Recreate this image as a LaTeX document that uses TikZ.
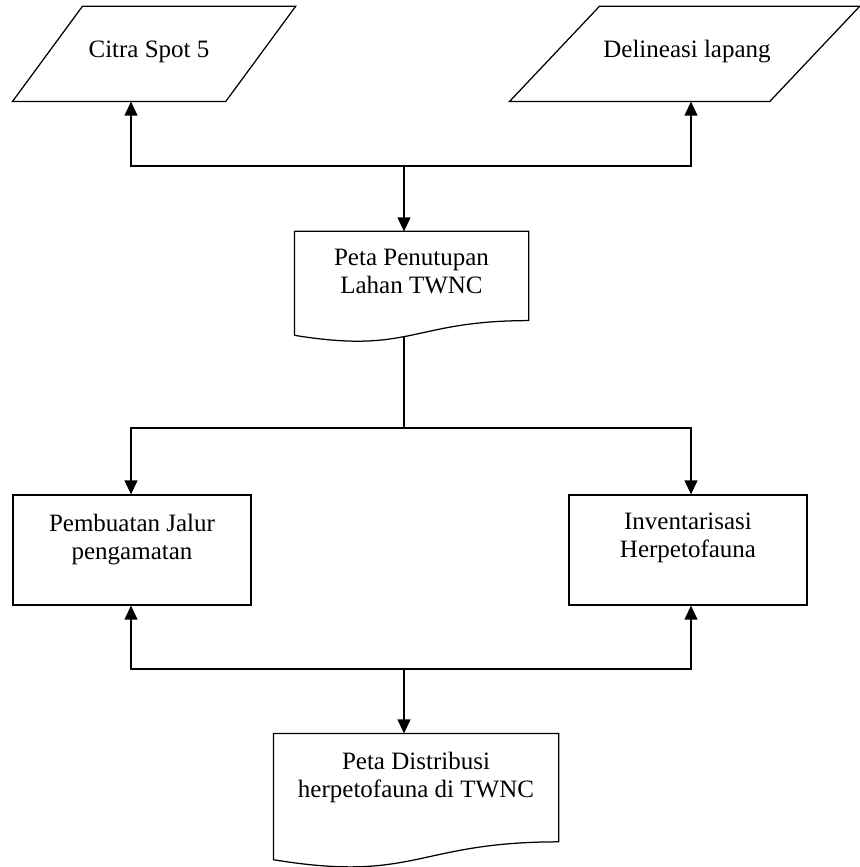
\documentclass[tikz,border=0pt]{standalone}
\usepackage{fontspec}
\setmainfont{Liberation Serif}
\usetikzlibrary{arrows.meta,calc}
\newdimen\pxu \pxu=0.48pt
% jajaran genjang: nama, geser
\newcommand\jajar[2]{%
  \draw ([xshift=#2]#1.north west) -- (#1.north east)
    -- ([xshift=-#2]#1.south east) -- (#1.south west) -- cycle;}
% simbol dokumen: nama, posisi kaki
\newcommand\dokumen[2]{%
  \draw (#1.north west) -- (#1.north east)
    -- ($(#1.north east)!0.802!(#1.south east)$)
    .. controls ($(#1.north)!0.802!(#1.south)$) and ($(#1.north)!1.107!(#1.south)$)
    .. ($(#1.north west)!0.934!(#1.south west)$) coordinate[pos=#2] (#1-kaki) -- cycle;}
\tikzset{
  bingkai/.style={draw=none, rectangle, inner sep=0pt},
  kotak/.style={draw, rectangle, inner sep=0pt, minimum width=238\pxu, minimum height=110\pxu},
  teks/.style={inner sep=0pt, align=center, font=\fontsize{12}{13.4}\selectfont}
}
\begin{document}
\begin{tikzpicture}[x=0.48pt, y=-0.48pt, line width=0.6pt,
  >={Triangle[width=6.2pt,length=6.7pt]}]
\useasboundingbox (0,0) rectangle (859,867);
% Masukan
\node[bingkai, minimum width=282\pxu, minimum height=94\pxu] (citra) at (154,54) {};
\node[bingkai, minimum width=349\pxu, minimum height=94\pxu] (delineasi) at (684.5,54) {};
\jajar{citra}{70\pxu}
\jajar{delineasi}{90\pxu}
\node[teks] (t-citra) at (149,52) {Citra Spot 5};
\node[teks] (t-delineasi) at (687,52) {Delineasi lapang};
% Peta penutupan lahan
\node[bingkai, minimum width=233\pxu, minimum height=110\pxu] (peta1) at (411.5,287) {};
\dokumen{peta1}{0.54}
\node[teks, anchor=north] (t-peta1) at ($(peta1.north)+(0,17)$) {Peta Penutupan\\Lahan TWNC};
% Kegiatan lapang
\node[kotak] (jalur) at (132,550) {};
\node[kotak] (inventaris) at (688,550) {};
\node[teks, anchor=north] (t-jalur) at ($(jalur.north)+(0,19)$) {Pembuatan Jalur\\pengamatan};
\node[teks, anchor=north] (t-inventaris) at ($(inventaris.north)+(0,18)$) {Inventarisasi\\Herpetofauna};
% Hasil
\node[bingkai, minimum width=284\pxu, minimum height=134\pxu] (peta2) at (416,801) {};
\dokumen{peta2}{0.55}
\node[teks, anchor=north] (t-peta2) at ($(peta2.north)+(0,18)$) {Peta Distribusi\\herpetofauna di TWNC};
% Titik cabang
\coordinate (c1) at (404,166);
\coordinate (c2) at (404,428);
\coordinate (c3) at (404,669);
% Garis alir
\draw[->] (c1) -| ([xshift=-23\pxu]citra.south);
\draw[->] (c1) -| ([xshift=6.5\pxu]delineasi.south);
\draw[->] (c1) -- (c1 |- peta1.north);
\draw (c2 |- peta1-kaki) -- (c2);
\draw[->] (c2) -| ([xshift=-1\pxu]jalur.north);
\draw[->] (c2) -| ([xshift=3\pxu]inventaris.north);
\draw[->] (c3) -| ([xshift=-1\pxu]jalur.south);
\draw[->] (c3) -| ([xshift=3\pxu]inventaris.south);
\draw[->] (c3) -- (c3 |- peta2.north);
\end{tikzpicture}
\end{document}
